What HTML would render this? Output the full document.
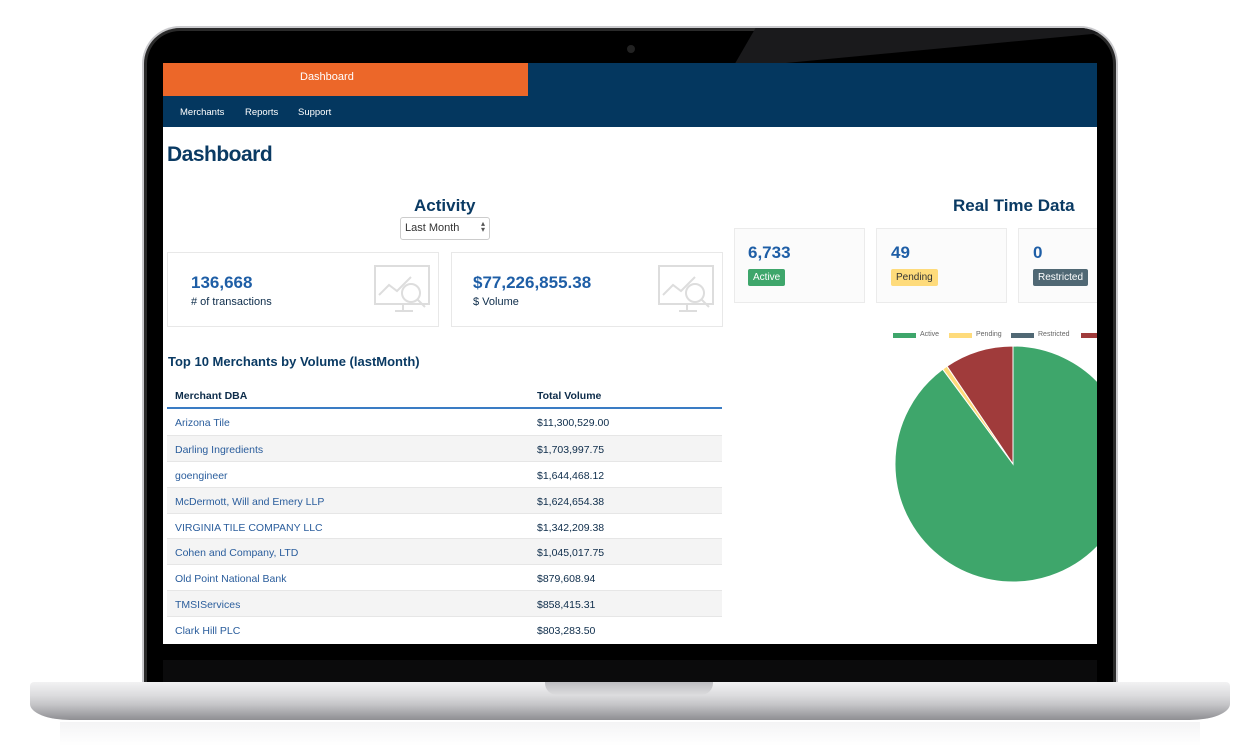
<!DOCTYPE html>
<html><head><style>
*{margin:0;padding:0;box-sizing:border-box}
body{width:1260px;height:756px;background:#fff;position:relative;overflow:hidden;font-family:"Liberation Sans",Arial,sans-serif}
.a{position:absolute}
.lid{left:142px;top:26px;width:976px;height:660px;background:#000;border-radius:38px 38px 0 0;border:2px solid #c9c9cc;border-bottom:none;box-shadow:inset 0 0 0 3px #2a2a2a;overflow:hidden}
.screen{left:163px;top:63px;width:934px;height:581px;background:#fff;overflow:hidden}
.t{position:absolute;white-space:nowrap}
.card{position:absolute;border:1px solid #e8e8e8;background:#fff}
.rc{position:absolute;border:1px solid #ebebeb;background:#fbfbfb}
.num{color:#1e5ea6;font-weight:bold;font-size:17px}
.badge{position:absolute;font-size:10px;padding:3px 5px;border-radius:2px}
.row{position:absolute;left:4px;width:555px;height:26px;border-top:1px solid #e6e6e6;font-size:10.5px}
.row span{position:absolute;top:8px}
.row .n{left:8px;color:#2a5d9c}
.row .v{left:370px;color:#0d2c4a}
</style></head><body>
<div class="a lid"><div class="a" style="left:600px;top:0;width:0;height:0;border-top:40px solid #1a1a1c;border-left:0 solid transparent;border-right:400px solid transparent;transform:skewX(-30deg)"></div></div>
<div class="a" style="left:163px;top:660px;width:934px;height:22px;background:#0b0b0c"></div>
<div class="a" style="left:30px;top:682px;width:1200px;height:38px;background:linear-gradient(#f2f2f3 0%,#dcdcde 35%,#c4c4c7 60%,#8e8e92 100%);border-radius:4px 4px 40px 40px/4px 4px 16px 16px"></div>
<div class="a" style="left:545px;top:682px;width:168px;height:13px;background:linear-gradient(#bdbdc0,#dcdcde);border-radius:0 0 12px 12px"></div>
<div class="a" style="left:60px;top:722px;width:1140px;height:24px;background:linear-gradient(#f4f4f5,#fff)"></div>
<div class="a" style="left:627px;top:45px;width:8px;height:8px;border-radius:50%;background:#222"></div>

<div class="a screen">
 <div class="a" style="left:0;top:0;width:934px;height:64px;background:#04375f"></div>
 <div class="a" style="left:0;top:0;width:365px;height:33px;background:#ec6729"></div>
 <div class="t" style="left:137px;top:8px;color:#fff;font-size:11px">Dashboard</div>
 <div class="t" style="left:17px;top:44px;color:#fff;font-size:9.5px">Merchants</div>
 <div class="t" style="left:82px;top:44px;color:#fff;font-size:9.5px">Reports</div>
 <div class="t" style="left:135px;top:44px;color:#fff;font-size:9.5px">Support</div>
 <div class="t" style="left:4px;top:80px;color:#0a3a63;font-size:21px;font-weight:bold;letter-spacing:-0.5px">Dashboard</div>

 <div class="t" style="left:251px;top:133px;color:#0a3a63;font-size:17px;font-weight:bold">Activity</div>
 <div class="a" style="left:237px;top:154px;width:90px;height:23px;border:1px solid #ccc;border-radius:3px"></div>
 <div class="t" style="left:242px;top:159px;color:#333;font-size:11px">Last Month</div>
 <div class="t" style="left:318px;top:158px;color:#555;font-size:8px;line-height:6px">▴<br>▾</div>

 <div class="card" style="left:4px;top:189px;width:272px;height:75px"></div>
 <div class="t num" style="left:28px;top:210px">136,668</div>
 <div class="t" style="left:28px;top:233px;color:#0d2c4a;font-size:11px"># of transactions</div>
 <div class="card" style="left:288px;top:189px;width:272px;height:75px"></div>
 <div class="t num" style="left:310px;top:210px">$77,226,855.38</div>
 <div class="t" style="left:310px;top:233px;color:#0d2c4a;font-size:11px">$ Volume</div>
 <svg class="a" style="left:210px;top:200px" width="60" height="56"><g fill="none" stroke="#ddd" stroke-width="2"><rect x="2" y="3" width="54" height="38"/><path d="M6 32l10-10 8 6 14-14"/><circle cx="38" cy="30" r="9"/><path d="M44 36l8 8M22 48h18M30 41v7"/></g></svg>
 <svg class="a" style="left:494px;top:200px" width="60" height="56"><g fill="none" stroke="#ddd" stroke-width="2"><rect x="2" y="3" width="54" height="38"/><path d="M6 32l10-10 8 6 14-14"/><circle cx="38" cy="30" r="9"/><path d="M44 36l8 8M22 48h18M30 41v7"/></g></svg>

 <div class="t" style="left:790px;top:133px;color:#0a3a63;font-size:17px;font-weight:bold">Real Time Data</div>
 <div class="rc" style="left:571px;top:165px;width:131px;height:75px"></div>
 <div class="t num" style="left:585px;top:180px">6,733</div>
 <div class="badge" style="left:585px;top:206px;background:#3ea66b;color:#fff">Active</div>
 <div class="rc" style="left:713px;top:165px;width:131px;height:75px"></div>
 <div class="t num" style="left:728px;top:180px">49</div>
 <div class="badge" style="left:728px;top:206px;background:#fedb7b;color:#333">Pending</div>
 <div class="rc" style="left:855px;top:165px;width:131px;height:75px"></div>
 <div class="t num" style="left:870px;top:180px">0</div>
 <div class="badge" style="left:870px;top:206px;background:#506874;color:#fff">Restricted</div>

 <div class="a" style="left:730px;top:270px;width:23px;height:5px;background:#3ea66b"></div>
 <div class="t" style="left:757px;top:268px;font-size:7px;color:#666">Active</div>
 <div class="a" style="left:786px;top:270px;width:23px;height:5px;background:#fedb7b"></div>
 <div class="t" style="left:813px;top:268px;font-size:7px;color:#666">Pending</div>
 <div class="a" style="left:848px;top:270px;width:23px;height:5px;background:#506874"></div>
 <div class="t" style="left:875px;top:268px;font-size:7px;color:#666">Restricted</div>
 <div class="a" style="left:918px;top:270px;width:23px;height:5px;background:#a03b3b"></div>

 <svg class="a" style="left:0;top:0" width="934" height="581">
  <g transform="translate(-163,-63)" stroke="#fff" stroke-width="1">
   <path d="M1013 464L1013 346A118 118 0 1 1 942.7 369.2Z" fill="#3ea66b"/>
   <path d="M1013 464L942.7 369.2A118 118 0 0 1 947 366.2Z" fill="#fedb7b"/>
   <path d="M1013 464L947 366.2A118 118 0 0 1 1013 346Z" fill="#a03b3b"/>
  </g>
 </svg>

 <div class="t" style="left:5px;top:291px;color:#0a3a63;font-size:13px;font-weight:bold">Top 10 Merchants by Volume (lastMonth)</div>
 <div class="t" style="left:12px;top:327px;color:#0d2c4a;font-size:10.5px;font-weight:bold">Merchant DBA</div>
 <div class="t" style="left:374px;top:327px;color:#0d2c4a;font-size:10.5px;font-weight:bold">Total Volume</div>
 <div class="a" style="left:4px;top:344px;width:555px;height:2px;background:#3a7cc4"></div>
 <div class="row" style="top:346px;border-top:none"><span class="n">Arizona Tile</span><span class="v">$11,300,529.00</span></div>
 <div class="row" style="top:372px;background:#f4f4f4"><span class="n">Darling Ingredients</span><span class="v">$1,703,997.75</span></div>
 <div class="row" style="top:398px"><span class="n">goengineer</span><span class="v">$1,644,468.12</span></div>
 <div class="row" style="top:424px;background:#f4f4f4"><span class="n">McDermott, Will and Emery LLP</span><span class="v">$1,624,654.38</span></div>
 <div class="row" style="top:450px"><span class="n">VIRGINIA TILE COMPANY LLC</span><span class="v">$1,342,209.38</span></div>
 <div class="row" style="top:475px;background:#f4f4f4"><span class="n">Cohen and Company, LTD</span><span class="v">$1,045,017.75</span></div>
 <div class="row" style="top:501px"><span class="n">Old Point National Bank</span><span class="v">$879,608.94</span></div>
 <div class="row" style="top:527px;background:#f4f4f4"><span class="n">TMSIServices</span><span class="v">$858,415.31</span></div>
 <div class="row" style="top:553px"><span class="n">Clark Hill PLC</span><span class="v">$803,283.50</span></div>
</div>
</body></html>
